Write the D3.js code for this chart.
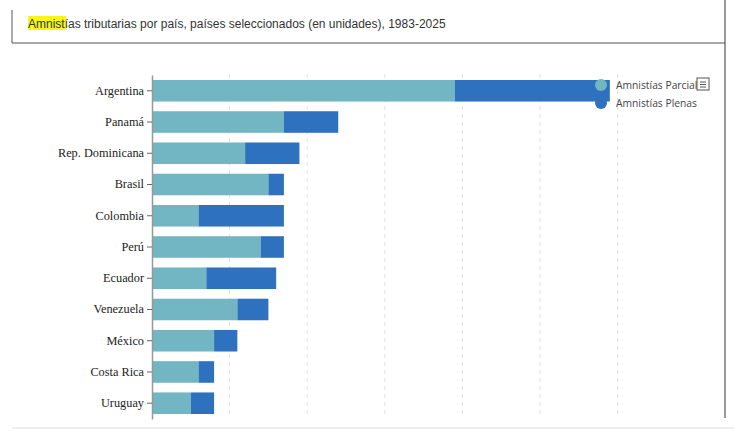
<!DOCTYPE html>
<html lang="es">
<head>
<meta charset="utf-8">
<title>Amnistías tributarias</title>
<script src="https://d3js.org/d3.v7.min.js"></script>
<style>
  body { margin: 0; background: #fff; }
  svg { display: block; }
</style>
</head>
<body>
<script>
// datos
var paises = ["Argentina", "Panamá", "Rep. Dominicana", "Brasil", "Colombia", "Perú",
              "Ecuador", "Venezuela", "México", "Costa Rica", "Uruguay"];
var parciales = [39, 17, 12, 15, 6, 14, 7, 11, 8, 6, 5];
var plenas    = [20, 7, 7, 2, 11, 3, 9, 4, 3, 2, 3];
var series = ["Amnistías Parciales", "Amnistías Plenas"];
var colores = ["#72b5c3", "#2e72bf"];
var gridTicks = [10, 20, 30, 40, 50, 60];

var w = 734, h = 444;

var svg = d3.select("body").append("svg")
    .attr("width", w)
    .attr("height", h);

// marco del titulo
svg.append("line").attr("x1", 12).attr("x2", 12).attr("y1", 10).attr("y2", 43)
    .attr("stroke", "#555").attr("stroke-width", 1);
svg.append("line").attr("x1", 12).attr("x2", 725).attr("y1", 43).attr("y2", 43)
    .attr("stroke", "#555").attr("stroke-width", 1.2);
svg.append("line").attr("x1", 725).attr("x2", 725).attr("y1", 0).attr("y2", 418)
    .attr("stroke", "#555").attr("stroke-width", 1.2);
svg.append("line").attr("x1", 12).attr("x2", w).attr("y1", 428).attr("y2", 428)
    .attr("stroke", "#ddd").attr("stroke-width", 1);

// titulo con resaltado
svg.append("rect").attr("x", 28).attr("y", 16).attr("width", 38).attr("height", 14)
    .attr("fill", "#f8f51a");
svg.append("text")
    .attr("x", 28).attr("y", 27.5)
    .attr("font-family", "Liberation Sans, Arial, sans-serif")
    .attr("font-size", "12px")
    .attr("fill", "#333")
    .text("Amnistías tributarias por país, países seleccionados (en unidades), 1983-2025");

var x = d3.scaleLinear().domain([0, 60]).range([152, 617.6]);
var y = d3.scaleBand().domain(paises).range([75, 419]).paddingInner(0.31).paddingOuter(0.16);

// lineas de cuadricula
svg.append("g").selectAll("line")
    .data(gridTicks)
    .enter()
    .append("line")
    .attr("x1", function(d) { return x(d); })
    .attr("x2", function(d) { return x(d); })
    .attr("y1", 74)
    .attr("y2", 416)
    .attr("stroke", "#e2e2e2")
    .attr("stroke-dasharray", "4,4");

// barras apiladas
var filas = paises.map(function(p, i) {
    return { pais: p, parciales: parciales[i], plenas: plenas[i] };
});
var stack = d3.stack().keys(["parciales", "plenas"]);
var capas = stack(filas);

svg.append("g").selectAll("g")
    .data(capas)
    .enter()
    .append("g")
    .attr("fill", function(d, i) { return colores[i]; })
    .selectAll("rect")
    .data(function(d) { return d; })
    .enter()
    .append("rect")
    .attr("x", function(d) { return x(d[0]); })
    .attr("y", function(d) { return y(d.data.pais); })
    .attr("width", function(d) { return x(d[1]) - x(d[0]); })
    .attr("height", y.bandwidth());

// eje y
var eje = svg.append("g")
    .attr("transform", "translate(152,0)")
    .call(d3.axisLeft(y).tickSize(5).tickSizeOuter(0).tickPadding(3));
eje.select(".domain").attr("stroke", "#999").attr("stroke-width", 1.5);
eje.selectAll(".tick line").attr("stroke", "#666");
eje.selectAll(".tick text")
    .attr("font-family", "Liberation Serif, Times New Roman, serif")
    .attr("font-size", "12.3px")
    .attr("fill", "#222");

// leyenda
var leyenda = svg.append("g").selectAll("g")
    .data(series)
    .enter()
    .append("g")
    .attr("transform", function(d, i) { return "translate(601," + (85 + i * 18) + ")"; });
leyenda.append("circle").attr("r", 6).attr("fill", function(d, i) { return colores[i]; });
leyenda.append("text")
    .attr("x", 15).attr("y", 4)
    .attr("font-family", "Open Sans, sans-serif")
    .attr("font-size", "10.3px")
    .attr("fill", "#444")
    .text(function(d) { return d; });

// icono que tapa el final de la primera etiqueta
var icono = svg.append("g").attr("transform", "translate(697,78)");
icono.append("rect").attr("width", 12).attr("height", 12).attr("fill", "#fff")
    .attr("stroke", "#555").attr("stroke-width", 1);
icono.append("line").attr("x1", 3).attr("x2", 9).attr("y1", 4).attr("y2", 4).attr("stroke", "#555");
icono.append("line").attr("x1", 3).attr("x2", 9).attr("y1", 6.5).attr("y2", 6.5).attr("stroke", "#555");
icono.append("line").attr("x1", 3).attr("x2", 9).attr("y1", 9).attr("y2", 9).attr("stroke", "#555");
</script>
</body>
</html>
